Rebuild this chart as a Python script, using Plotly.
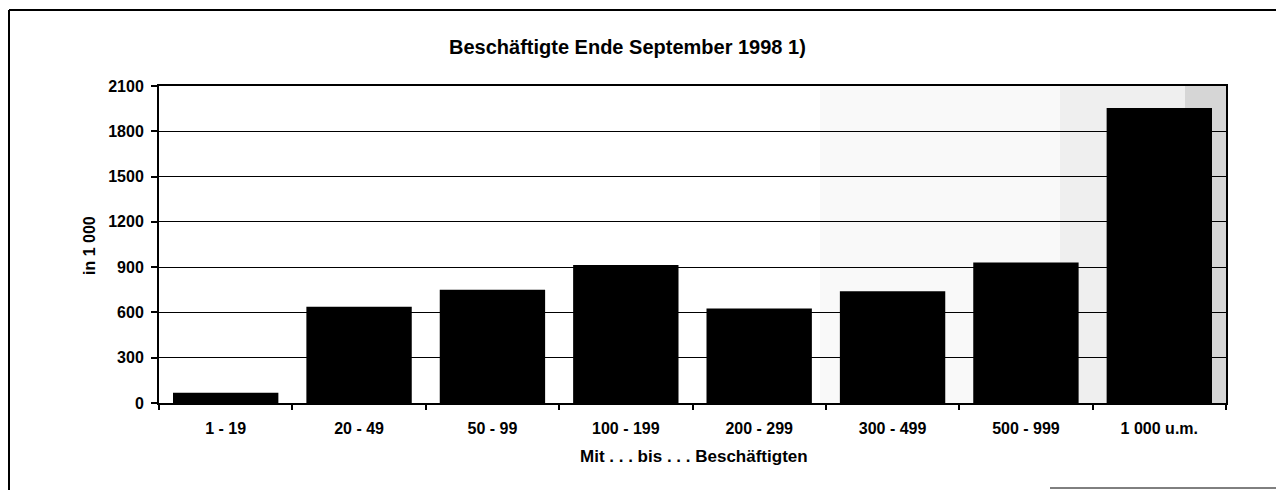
import plotly.graph_objects as go

categories = ["1 - 19", "20 - 49", "50 - 99", "100 - 199", "200 - 299", "300 - 499", "500 - 999", "1 000 u.m."]
values = [68, 638, 750, 915, 626, 740, 930, 1955]
y_ticks = [0, 300, 600, 900, 1200, 1500, 1800, 2100]

title_text = "Beschäftigte Ende September 1998 1)"
y_title = "in 1 000"
x_title = "Mit . . . bis . . . Beschäftigten"

FONT = "Liberation Sans, Arial, sans-serif"

# the page body adds an 8px offset; the figure is sized to fit the window
W, H = 1276, 482
L, T = 151, 78
PW, PH = 1067, 317
R, B = W - L - PW, H - T - PH

# visual pixel positions (window coordinates) -> paper coords
VX0, VY0 = 159, 403


def px(x):
    return (x - VX0) / PW


def py(y):
    return (VY0 - y) / PH


fig = go.Figure(go.Bar(
    x=categories, y=values,
    marker=dict(color="black", line=dict(width=0)),
))

fig.update_layout(
    width=W, height=H,
    margin=dict(l=L, r=R, t=T, b=B),
    paper_bgcolor="white", plot_bgcolor="white",
    bargap=0.21,
    showlegend=False,
    font=dict(family=FONT, color="black"),
)

fig.update_xaxes(
    type="category",
    tickson="boundaries",
    ticks="outside", ticklen=5, tickwidth=1.5, tickcolor="black",
    showline=True, linecolor="black", linewidth=2, mirror=True,
    showgrid=False,
    tickfont=dict(family=FONT, size=16, color="black"),
    ticklabelstandoff=10,
    tickprefix="<b>", ticksuffix="</b>",
)

fig.update_yaxes(
    range=[0, 2100],
    tickvals=y_ticks,
    ticktext=["<b>%d</b>" % v for v in y_ticks],
    ticks="outside", ticklen=6, tickwidth=1.5, tickcolor="black",
    showline=True, linecolor="black", linewidth=2, mirror=True,
    showgrid=True, gridcolor="black", gridwidth=1,
    zeroline=False,
    tickfont=dict(family=FONT, size=16, color="black"),
    ticklabelstandoff=4,
)

# titles
fig.add_annotation(text="<b>" + title_text + "</b>", xref="paper", yref="paper",
                   x=px(627), y=py(47), xanchor="center", yanchor="middle", showarrow=False,
                   font=dict(family=FONT, size=20, color="black"))
fig.add_annotation(text="<b>" + x_title + "</b>", xref="paper", yref="paper",
                   x=px(694), y=py(456), xanchor="center", yanchor="middle", showarrow=False,
                   font=dict(family=FONT, size=17, color="black"))
fig.add_annotation(text="<b>" + y_title + "</b>", xref="paper", yref="paper",
                   x=px(89), y=py(246), xanchor="center", yanchor="middle", showarrow=False,
                   textangle=-90, font=dict(family=FONT, size=16, color="black"))

# faint scan shading on the right side of the plot area
fig.add_shape(type="rect", xref="paper", yref="paper", x0=px(820), x1=1, y0=0, y1=1,
              fillcolor="#000000", opacity=0.025, line=dict(width=0), layer="below")
fig.add_shape(type="rect", xref="paper", yref="paper", x0=px(1060), x1=1, y0=0, y1=1,
              fillcolor="#000000", opacity=0.04, line=dict(width=0), layer="below")
fig.add_shape(type="rect", xref="paper", yref="paper", x0=px(1185), x1=1, y0=0, y1=1,
              fillcolor="#000000", opacity=0.1, line=dict(width=0), layer="below")

# outer frame of the scanned chart
line_style = dict(color="black", width=2)
fig.add_shape(type="line", xref="paper", yref="paper", x0=px(9), x1=px(9), y0=py(10), y1=py(492), line=line_style)
fig.add_shape(type="line", xref="paper", yref="paper", x0=px(9), x1=px(1290), y0=py(10), y1=py(10), line=line_style)
fig.add_shape(type="line", xref="paper", yref="paper", x0=px(1050), x1=px(1290), y0=py(488), y1=py(488), line=dict(color="black", width=1))

fig.write_html("out.html")
